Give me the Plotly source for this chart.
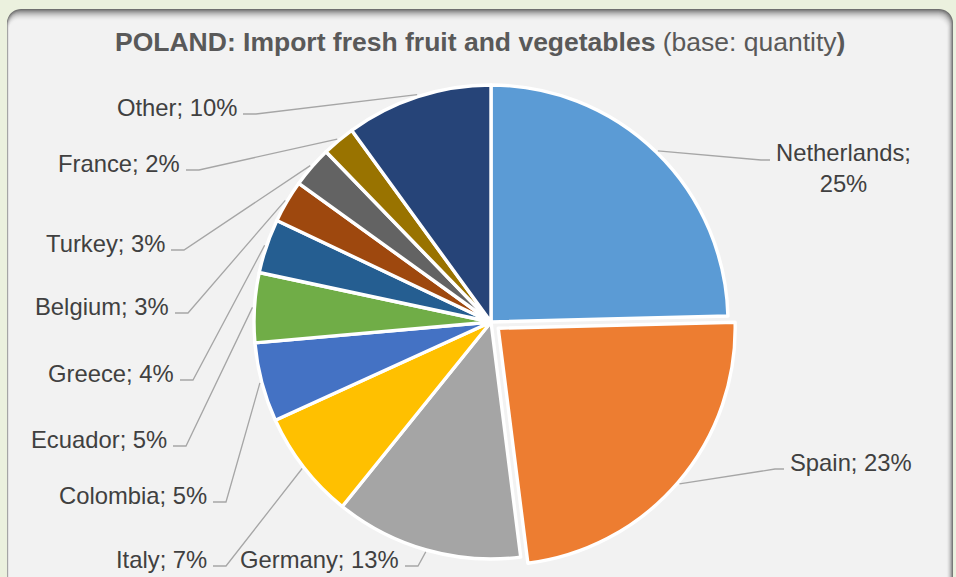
import math
import plotly.graph_objects as go

# ---------------- data ----------------
countries = ["Netherlands", "Spain", "Germany", "Italy", "Colombia", "Ecuador",
             "Greece", "Belgium", "Turkey", "France", "Other"]
shares = [24.6, 23.4, 12.8, 7.4, 5.4, 4.75, 3.7, 2.9, 2.8, 2.25, 10.0]
colors = ["#5B9BD5", "#ED7D31", "#A5A5A5", "#FFC000", "#4472C4", "#70AD47",
          "#255E91", "#9E480E", "#636363", "#997300", "#264478"]
pulls = [0, 0.04, 0, 0, 0, 0, 0, 0, 0, 0, 0]

# ---------------- layout constants (pixels) ----------------
W, H = 956, 577
CX, CY, R = 491.0, 322.0, 237.0
maxpull = max(pulls)
S = 2 * R * (1 + maxpull)

def px(x):
    return x / W

def py(y):
    return 1 - y / H

# label positions: (x, y_center, side)
label_pos = {
    "Netherlands": (775, 168, "right"),
    "Spain": (789, 462, "right"),
    "Germany": (400, 559, "left"),
    "Italy": (208, 559, "left"),
    "Colombia": (208, 495, "left"),
    "Ecuador": (168, 439, "left"),
    "Greece": (175, 373, "left"),
    "Belgium": (170, 306, "left"),
    "Turkey": (166, 243, "left"),
    "France": (181, 163, "left"),
    "Other": (238, 107, "left"),
}

total = sum(shares)

def pct_text(v):
    return int(math.floor(v / total * 100 + 0.5))

fig = go.Figure()
fig.add_trace(go.Pie(
    values=shares, labels=countries, sort=False, direction="clockwise",
    rotation=0, pull=pulls, textinfo="none", hoverinfo="label+percent",
    marker=dict(colors=colors, line=dict(color="white", width=3.4)),
    showlegend=False,
    domain=dict(x=[px(CX - S / 2), px(CX + S / 2)],
                y=[py(CY + S / 2), py(CY - S / 2)]),
))

shapes = []

def rrect_path(x0, y0, x1, y1, r, n=10):
    pts = []
    corners = [(x1 - r, y0 + r, -90, 0), (x1 - r, y1 - r, 0, 90),
               (x0 + r, y1 - r, 90, 180), (x0 + r, y0 + r, 180, 270)]
    for (ccx, ccy, a0, a1) in corners:
        for k in range(n + 1):
            a = math.radians(a0 + (a1 - a0) * k / n)
            pts.append((ccx + r * math.cos(a), ccy + r * math.sin(a)))
    d = "M " + " L ".join(f"{px(x):.5f},{py(y):.5f}" for x, y in pts) + " Z"
    return d

# panel with shadow-ish top edge
layers = 12
for i in range(layers + 1):
    t = i / layers
    t2 = 1 - (1 - t) ** 2
    c0 = (112, 112, 112)
    c1 = (242, 242, 242)
    col = tuple(int(c0[j] + (c1[j] - c0[j]) * t2) for j in range(3))
    shapes.append(dict(
        type="path", xref="paper", yref="paper",
        path=rrect_path(7 + 0.18 * i, 9 + 1.0 * i, 953 - 0.55 * i, 600, 14 - 0.4 * i),
        fillcolor="rgb(%d,%d,%d)" % col, line=dict(width=0), layer="below"))

# leader lines + labels
annotations = []
cum = 0.0
for name, v, pl in zip(countries, shares, pulls):
    mid = (cum + v / 2) / total * 2 * math.pi
    cum += v
    ox = CX + pl * R * math.sin(mid)
    oy = CY - pl * R * math.cos(mid)
    ax = ox + (R + 2) * math.sin(mid)
    ay = oy - (R + 2) * math.cos(mid)
    lx, ly, side = label_pos[name]
    if name == "Netherlands":
        txt = f"{name};<br>{pct_text(v)}%"
        sy = ly - 8
    else:
        txt = f"{name}; {pct_text(v)}%"
        sy = ly + 7
    if side == "left":
        s0, s1 = lx + 5, lx + 18
        annotations.append(dict(x=px(lx), y=py(ly), xref="paper", yref="paper",
                                xanchor="right", yanchor="middle", text=txt,
                                showarrow=False, align="right", borderpad=0))
    else:
        s0, s1 = lx - 5, lx - 14
        annotations.append(dict(x=px(lx), y=py(ly), xref="paper", yref="paper",
                                xanchor="left", yanchor="middle", text=txt,
                                showarrow=False, align="center", borderpad=0))
    path = f"M {px(s0):.5f},{py(sy):.5f} L {px(s1):.5f},{py(sy):.5f} L {px(ax):.5f},{py(ay):.5f}"
    shapes.append(dict(type="path", xref="paper", yref="paper", path=path,
                       line=dict(color="#A6A6A6", width=1.3), layer="above"))

annotations.append(dict(
    x=px(480), y=py(42), xref="paper", yref="paper", xanchor="center", yanchor="middle",
    text="<b>POLAND: Import fresh fruit and vegetables</b> (base: quantity<b>)</b>",
    showarrow=False, font=dict(size=26.5, color="#595959"), borderpad=0))

fig.update_layout(
    width=W, height=H, margin=dict(l=0, r=0, t=0, b=0, pad=0),
    paper_bgcolor="#EBF1DE", plot_bgcolor="#EBF1DE",
    font=dict(family="Liberation Sans, Arial, sans-serif", size=23.8, color="#404040"),
    shapes=shapes, annotations=annotations,
)

fig.write_html("out.html", config={"displayModeBar": False},
               post_script="document.body.style.margin='0';document.body.style.overflow='hidden';")
